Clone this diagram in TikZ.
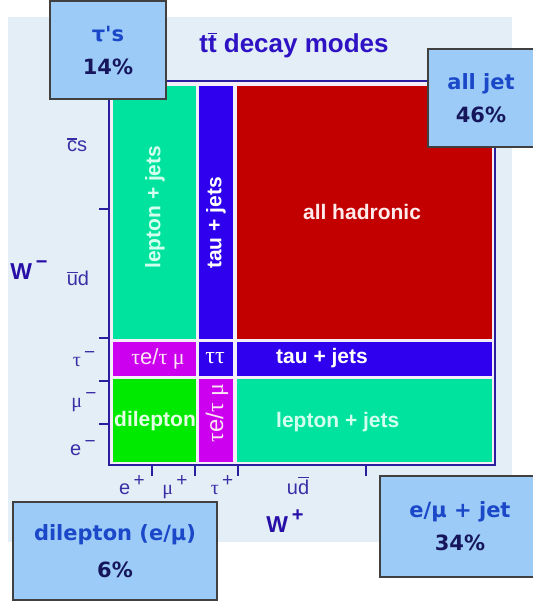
\documentclass[tikz,border=0pt]{standalone}
\usepackage{fontspec}
\setmainfont{Liberation Sans}
\newfontfamily\grk{Liberation Serif}
\newfontfamily\boxfont{DejaVu Sans}
\usetikzlibrary{positioning}

\definecolor{bgblue}{HTML}{E3EEF7}
\definecolor{gapwhite}{HTML}{F4EEF9}
\definecolor{axisblue}{HTML}{2A1E9E}
\definecolor{lblblue}{HTML}{3A2EA6}
\definecolor{titleblue}{HTML}{2E12C4}
\definecolor{ljgreen}{HTML}{00E39E}
\definecolor{taublue}{HTML}{2E00EE}
\definecolor{hadred}{HTML}{C20000}
\definecolor{taumag}{HTML}{CC00EE}
\definecolor{dilgreen}{HTML}{00EA00}
\definecolor{ljtext}{HTML}{D2FFEE}
\definecolor{callfill}{HTML}{9DCBF7}
\definecolor{calltop}{HTML}{1A48C8}
\definecolor{callnum}{HTML}{16165C}

% bar over a letter (anti-quark)
\newcommand{\ob}[1]{\setbox0=\hbox{#1}\rlap{\rule[\dimexpr\ht0+1.6pt\relax]{\wd0}{1.3pt}}#1}
% charge sign, raised
\newcommand{\chg}[1]{\,\raisebox{0.4em}{\fontsize{19}{19}\selectfont #1}}

\begin{document}
\begin{tikzpicture}[
  x=1pt, y=-1pt,
  cell/.style={rectangle, inner sep=0, draw=none},
  lbl/.style={inner sep=0, font=\bfseries\fontsize{21}{24}\selectfont, text=white},
  axlbl/.style={inner sep=0, text=lblblue, font=\fontsize{20}{21}\selectfont},
  tick/.style={axisblue, line width=2},
  callout/.style={rectangle, draw=black!75, line width=1.2, fill=callfill,
                  align=center, inner sep=0,
                  font=\boxfont\bfseries\fontsize{21}{33}\selectfont}
]
\useasboundingbox (0,0) rectangle (532,604);
\fill[bgblue] (8,17) rectangle (512,542);

\node[anchor=base, inner sep=0, text=titleblue, font=\bfseries\fontsize{26}{28}\selectfont]
  (title) at (294,53) {t\ob{t} decay modes};

% frame and ticks
\draw[axisblue, line width=2, fill=gapwhite] (109,81) rectangle (495,465);
\foreach \ty in {209,338,381,424}
  \draw[tick] (99,\ty) -- (109,\ty);
\foreach \tx in {152,195,238,366}
  \draw[tick] (\tx,465) -- (\tx,476);

% cells: columns 113-196, 199-233, 237-492; rows 86-339, 342-376, 379-462
\node[cell, fill=ljgreen, minimum width=83, minimum height=253] (ljup) at (154.5,212.5) {};
\node[cell, fill=taublue, minimum width=34, minimum height=253] (tjup) at (216,212.5) {};
\node[cell, fill=hadred, minimum width=255, minimum height=253] (had) at (364.5,212.5) {};
\node[cell, fill=taumag, minimum width=83, minimum height=34] (tel) at (154.5,359) {};
\node[cell, fill=taublue, minimum width=34, minimum height=34] (tata) at (216,359) {};
\node[cell, fill=taublue, minimum width=255, minimum height=34] (tjright) at (364.5,359) {};
\node[cell, fill=dilgreen, minimum width=83, minimum height=83] (dil) at (154.5,420.5) {};
\node[cell, fill=taumag, minimum width=34, minimum height=83] (tel2) at (216,420.5) {};
\node[cell, fill=ljgreen, minimum width=255, minimum height=83] (ljright) at (364.5,420.5) {};

% cell texts
\node[lbl, text=ljtext, rotate=90, anchor=west] (ljuptxt) at (155,269) {lepton + jets};
\node[lbl, rotate=90, anchor=west] (tjuptxt) at (216,269) {tau + jets};
\node[lbl, text=red!8] (hadtxt) at (362,212) {all hadronic};
\node[lbl, font=\fontsize{22}{24}\selectfont, text=magenta!10] (teltxt) at (158,359)
  {{\grk τ}e/{\grk τ μ}};
\node[lbl, font=\grk\fontsize{24}{26}\selectfont] (tatatxt) at (215,358) {ττ};
\node[lbl, anchor=west] (tjrighttxt) at (276,358) {tau + jets};
\node[lbl, text=green!10] (diltxt) at (155,421) {dilepton};
\node[lbl, font=\fontsize{24}{26}\selectfont, text=magenta!10, rotate=90] (tel2txt) at (217,413)
  {{\grk τ}e/{\grk τ μ}};
\node[lbl, text=ljtext, anchor=west] (ljrighttxt) at (276,422) {lepton + jets};

% axis labels
\node[axlbl, anchor=base] (cs) at (77,152) {\ob{c}s};
\node[axlbl, anchor=base] (ud) at (78,285) {\ob{u}d};
\node[axlbl, anchor=base, text=titleblue!85!black, font=\bfseries\fontsize{23}{24}\selectfont]
  (wminus) at (29,279) {W\,\raisebox{0.45em}{\fontsize{20}{20}\selectfont −}};
\node[axlbl, anchor=base] (taum) at (84,366) {{\grk τ}\chg{−}};
\node[axlbl, anchor=base] (mum) at (84,407) {{\grk μ}\chg{−}};
\node[axlbl, anchor=base] (em) at (83,455) {e\chg{−}};
\node[axlbl, anchor=base] (ep) at (132,494) {e\chg{+}};
\node[axlbl, anchor=base] (mup) at (175,494) {{\grk μ}\chg{+}};
\node[axlbl, anchor=base] (taup) at (222,494) {{\grk τ}\chg{+}};
\node[axlbl, anchor=base] (udbar) at (298,494) {u\ob{d}};
\node[axlbl, anchor=base, text=titleblue!85!black, font=\bfseries\fontsize{23}{24}\selectfont]
  (wplus) at (285,532) {W\,\raisebox{0.45em}{\fontsize{20}{20}\selectfont +}};

% callouts
\node[callout, minimum width=116, minimum height=98] (taus) at (108,50)
  {\textcolor{calltop}{τ's}\\\textcolor{callnum}{14\%}};
\node[callout, minimum width=112, minimum height=98] (alljet) at (484,98)
  {\hspace*{-6pt}\textcolor{calltop}{all jet}\\\hspace*{-6pt}\textcolor{callnum}{46\%}};
\node[callout, minimum width=204, minimum height=98] (dilep) at (115,551)
  {\textcolor{calltop}{dilepton (e/μ)}\\[4pt]\textcolor{callnum}{6\%}};
\node[callout, minimum width=160, minimum height=101] (lepjet) at (460,526.5)
  {\textcolor{calltop}{e/μ + jet}\\\textcolor{callnum}{34\%}};
\end{tikzpicture}
\end{document}
